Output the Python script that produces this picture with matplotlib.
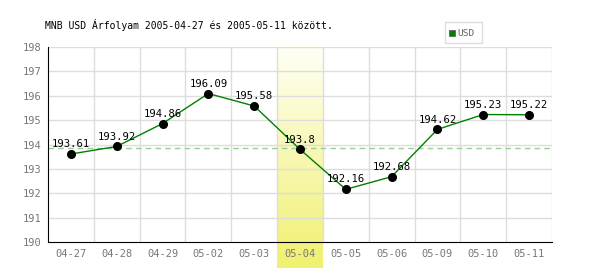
import numpy as np
import matplotlib
matplotlib.use('Agg')
from matplotlib import pyplot as plt
from matplotlib.patches import Rectangle

dates = ['04-27', '04-28', '04-29', '05-02', '05-03', '05-04',
         '05-05', '05-06', '05-09', '05-10', '05-11']
rates = [193.61, 193.92, 194.86, 196.09, 195.58, 193.8,
         192.16, 192.68, 194.62, 195.23, 195.22]
ref_level = 193.85
highlight = '05-04'
title = 'MNB USD Árfolyam 2005-04-27 és 2005-05-11 között.'

plt.rcParams['font.family'] = ['DejaVu Sans Mono']

fig = plt.figure(figsize=(6, 2.7), dpi=100)
ax = fig.add_axes([0.08, 0.1037, 0.84, 0.7222])

x = np.arange(len(dates))

# highlighted day: white-to-yellow gradient, runs down over tick labels
hi = dates.index(highlight)
grad = np.linspace(0, 1, 100).reshape(-1, 1)
cmap = matplotlib.colors.LinearSegmentedColormap.from_list('wy', ['#fffff6', '#f0f070'])
ax.imshow(grad, cmap=cmap, aspect='auto', extent=(hi - 0.5, hi + 0.5, 188.93, 198.1),
          origin='upper', clip_on=False, zorder=0, interpolation='bilinear')
ax.set_xlim(-0.5, len(dates) - 0.5)
ax.set_ylim(190, 198)

# grid
for yv in range(191, 199):
    ax.axhline(yv, color='#dddddd', lw=1, zorder=1)
for xv in np.arange(0.5, len(dates), 1):
    ax.axvline(xv, color='#dddddd', lw=1, zorder=1)

ax.axhline(ref_level, color='#99cc99', lw=1, ls=(0, (4, 3)), zorder=2)

ax.plot(x, rates, color='#008000', lw=1, zorder=3)
ax.plot(x, rates, 'o', color='black', ms=5.5, zorder=4)
for xi, v in zip(x, rates):
    ax.text(xi, v + 0.2, f'{v:g}', ha='center', va='bottom', fontsize=7.6, color='black', zorder=5)

for s in ['top', 'right']:
    ax.spines[s].set_visible(False)
ax.spines['left'].set_zorder(6)
ax.spines['bottom'].set_zorder(6)

ax.set_xticks(x)
ax.set_xticklabels(dates)
ax.set_yticks(range(190, 199))
ax.tick_params(length=0, colors='#777777', labelsize=7.5, pad=5)

fig.text(45 / 600, 1 - 25 / 270, title, fontsize=7, va='center', ha='left', color='black')

# legend box
fig.patches.append(Rectangle((445 / 600, 1 - 43 / 270), 37 / 600, 21 / 270,
                             transform=fig.transFigure, fill=False, ec='#dddddd', lw=1))
fig.patches.append(Rectangle((449 / 600, 1 - 36 / 270), 6 / 600, 6 / 270,
                             transform=fig.transFigure, fc='#008000', ec='#555555', lw=0.5))
fig.text(457 / 600, 1 - 33 / 270, 'USD', fontsize=6.8, va='center', ha='left', color='#666666')

fig.savefig('out.png', dpi=100)
